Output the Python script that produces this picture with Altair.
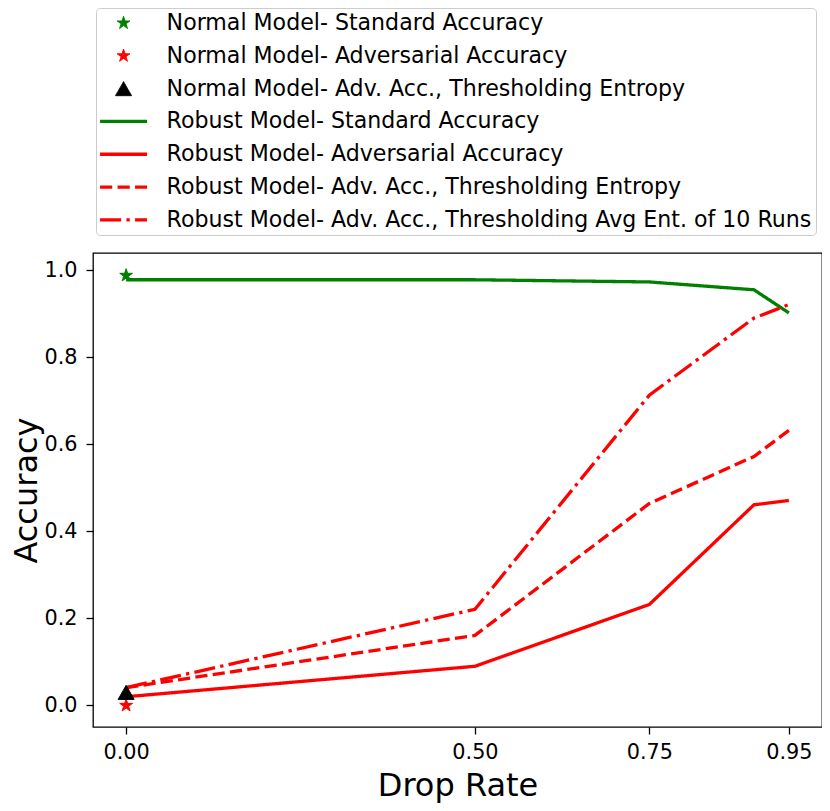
import math
import altair as alt
import pandas as pd

# ---------------- data ----------------
SERIES = [
    "Normal Model- Standard Accuracy",
    "Normal Model- Adversarial Accuracy",
    "Normal Model- Adv. Acc., Thresholding Entropy",
    "Robust Model- Standard Accuracy",
    "Robust Model- Adversarial Accuracy",
    "Robust Model- Adv. Acc., Thresholding Entropy",
    "Robust Model- Adv. Acc., Thresholding Avg Ent. of 10 Runs",
]
NORMAL_X = [0.0, 0.0, 0.0]
NORMAL_Y = [0.988, 0.0, 0.03]

DROP_RATE = [0.0, 0.5, 0.75, 0.9, 0.95]
ROBUST_STD = [0.978, 0.978, 0.973, 0.955, 0.902]
ROBUST_ADV = [0.02, 0.09, 0.232, 0.461, 0.471]
ROBUST_THR = [0.041, 0.161, 0.464, 0.572, 0.632]
ROBUST_AVG = [0.041, 0.221, 0.713, 0.890, 0.921]

X_TICKS = [0.0, 0.5, 0.75, 0.95]
Y_TICKS = [0.0, 0.2, 0.4, 0.6, 0.8, 1.0]

rows = []
for name, xv, yv in zip(SERIES[:3], NORMAL_X, NORMAL_Y):
    rows.append({"series": name, "drop": xv, "acc": yv, "kind": "normal"})
for name, ys in zip(SERIES[3:], [ROBUST_STD, ROBUST_ADV, ROBUST_THR, ROBUST_AVG]):
    for xv, yv in zip(DROP_RATE, ys):
        rows.append({"series": name, "drop": xv, "acc": yv, "kind": "robust"})
df = pd.DataFrame(rows)

# ---------------- styles ----------------
GREEN = "#008000"
RED = "#ff0000"
BLACK = "#000000"
COLORS = [GREEN, RED, BLACK, GREEN, RED, RED, RED]

SYM_SIZE = 324  # 18px -> 9px per path unit


def star_path(R, r):
    pts = []
    for k in range(10):
        ang = math.radians(-90 + 36 * k)
        rad = R if k % 2 == 0 else r
        pts.append(f"{rad * math.cos(ang):.3f},{rad * math.sin(ang):.3f}")
    return "M" + "L".join(pts) + "Z"


STAR = star_path(0.75, 0.75 * 0.382)
TRI = "M0,-0.78L0.89,0.78L-0.89,0.78Z"
LINE = "M-2.61,0L2.61,0"
SHAPES = [STAR, STAR, TRI, LINE, LINE, LINE, LINE]
DASHES = [[1, 0], [1, 0], [1, 0], [1, 0], [1, 0], [12.2, 5.3], [21.1, 5.3, 3.3, 5.3]]
WIDTHS = [1, 1, 1, 3.3, 3.3, 3.3, 3.3]

xenc = alt.X(
    "drop:Q",
    scale=alt.Scale(domain=[-0.0475, 0.9975], nice=False, zero=False),
    axis=alt.Axis(values=X_TICKS, format=".2f", title="Drop Rate"),
)
yenc = alt.Y(
    "acc:Q",
    scale=alt.Scale(domain=[-0.0495, 1.0395], nice=False, zero=False),
    axis=alt.Axis(values=Y_TICKS, format=".1f", title="Accuracy"),
)
stroke_enc = alt.Stroke("series:N", scale=alt.Scale(domain=SERIES, range=COLORS), title=None)

base = alt.Chart(df)

lines = (
    base.transform_filter(alt.datum.kind == "robust")
    .mark_line()
    .encode(
        x=xenc,
        y=yenc,
        stroke=stroke_enc,
        strokeDash=alt.StrokeDash("series:N", scale=alt.Scale(domain=SERIES, range=DASHES), title=None),
        strokeWidth=alt.StrokeWidth(
            "series:N", scale=alt.Scale(type="ordinal", domain=SERIES, range=WIDTHS), title=None
        ),
    )
)

points = (
    base.transform_filter(alt.datum.kind == "normal")
    .mark_point(filled=True, size=SYM_SIZE, opacity=1, strokeWidth=1)
    .encode(
        x=xenc,
        y=yenc,
        fill=alt.Fill("series:N", scale=alt.Scale(domain=SERIES, range=COLORS), title=None),
        stroke=stroke_enc,
        shape=alt.Shape("series:N", scale=alt.Scale(domain=SERIES, range=SHAPES), title=None),
    )
)

chart = (
    alt.layer(lines, points)
    .properties(
        width=729,
        height=474,
        autosize=alt.AutoSizeParams(type="none"),
        padding={"left": 85, "top": 245, "right": 0, "bottom": 76},
    )
    .configure(font="DejaVu Sans")
    .configure_view(stroke="black", strokeWidth=1.3)
    .configure_axis(
        domain=False,
        grid=False,
        tickColor="black",
        tickWidth=1.3,
        tickSize=7,
        labelFont="DejaVu Sans",
        labelFontSize=20.8,
        labelColor="black",
        titleFont="DejaVu Sans",
        titleFontSize=32,
        titleFontWeight="normal",
        titleColor="black",
    )
    .configure_axisX(labelPadding=8, titlePadding=9)
    .configure_axisY(labelPadding=9, titlePadding=0)
    .configure_legend(
        orient="none",
        direction="vertical",
        legendX=3,
        legendY=-245,
        padding=4,
        strokeColor="#cccccc",
        cornerRadius=4,
        fillColor="white",
        labelFont="DejaVu Sans",
        labelFontSize=22.1,
        labelColor="black",
        labelLimit=1000,
        symbolSize=SYM_SIZE,
        symbolOffset=12.5,
        labelOffset=32,
        rowPadding=9.8,
    )
)

chart.save("out.html", embed_options={"renderer": "svg", "actions": False})
